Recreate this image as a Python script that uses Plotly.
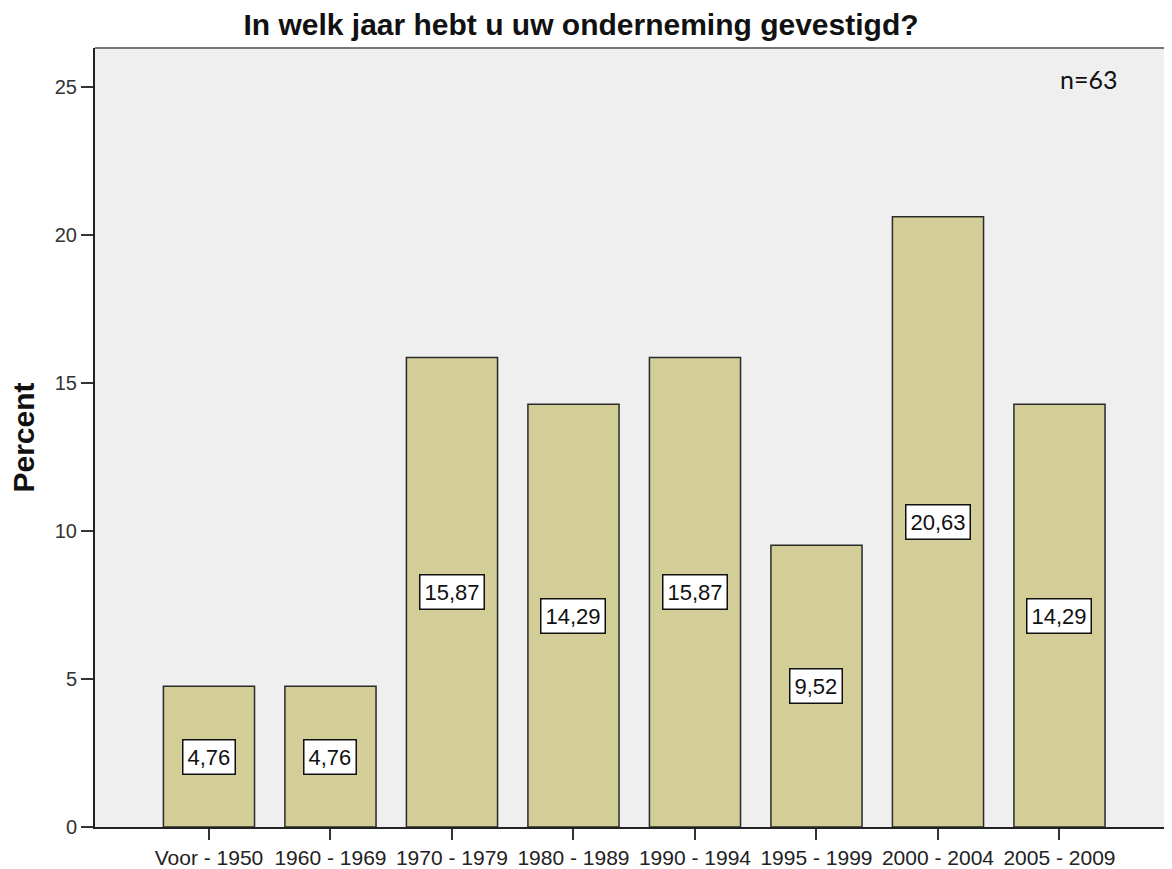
import plotly.graph_objects as go

categories = ["Voor - 1950", "1960 - 1969", "1970 - 1979", "1980 - 1989",
              "1990 - 1994", "1995 - 1999", "2000 - 2004", "2005 - 2009"]
percent = [4.76, 4.76, 15.87, 14.29, 15.87, 9.52, 20.63, 14.29]
y_ticks = [0, 5, 10, 15, 20, 25]
title_text = "In welk jaar hebt u uw onderneming gevestigd?"
n_text = "n=63"

# page body has an 8px margin, so the figure is drawn 8px in from the corner
OFF = 8
W, H = 1172 - OFF, 869 - OFF
ML, MR, MT, MB = 95 - OFF, 0, 48 - OFF, 38

fig = go.Figure()
fig.add_trace(go.Bar(
    x=list(range(len(categories))), y=percent,
    width=0.75,
    marker=dict(color="#D3CE98", line=dict(color="#2a2a2a", width=1.5)),
    hoverinfo="skip",
))

annotations = []
for i, v in enumerate(percent):
    annotations.append(dict(
        x=i, y=v / 2, xref="x", yref="y",
        text=f"{v:.2f}".replace(".", ","),
        showarrow=False,
        font=dict(family="Arial, Liberation Sans", size=22, color="#111111"),
        bgcolor="white", bordercolor="#111111", borderwidth=1.5, borderpad=4,
        xanchor="center", yanchor="middle",
    ))

plot_w = W - ML - MR
plot_h = H - MT - MB
annotations.append(dict(
    x=(23 - 95) / plot_w, y=0.5, xref="paper", yref="paper",
    text="<b>Percent</b>", textangle=-90, showarrow=False,
    font=dict(family="Arial, Liberation Sans", size=30, color="#111111"),
    xanchor="center", yanchor="middle",
))
annotations.append(dict(
    x=(1058 - 95) / plot_w, y=(869 - MB - 79) / plot_h, xref="paper", yref="paper",
    text=n_text, showarrow=False,
    font=dict(family="Lato, Open Sans", size=25, color="#111111"),
    xanchor="left", yanchor="middle",
))

fig.update_layout(
    width=W, height=H,
    margin=dict(l=ML, r=MR, t=MT, b=MB),
    paper_bgcolor="white", plot_bgcolor="#EFEFEF",
    showlegend=False,
    title=dict(text="<b>" + title_text + "</b>", x=(581 - OFF) / W, xref="container",
               xanchor="center", y=1 - (24 - OFF) / H, yref="container", yanchor="middle",
               font=dict(family="Arial, Liberation Sans", size=30, color="#111111")),
    annotations=annotations,
    xaxis=dict(
        range=[-0.938, 7.926], tickmode="array",
        tickvals=list(range(len(categories))), ticktext=categories,
        showgrid=False, zeroline=False, showline=True, linecolor="#222222", linewidth=2,
        ticks="outside", ticklen=11, tickwidth=2, tickcolor="#333333",
        tickfont=dict(family="Arial, Liberation Sans", size=21, color="#222222"),
        fixedrange=True,
    ),
    yaxis=dict(
        range=[0, 26.33], tickmode="array", tickvals=y_ticks,
        ticktext=[str(t) for t in y_ticks],
        showgrid=False, zeroline=False, showline=True, linecolor="#222222", linewidth=2,
        ticks="outside", ticklen=12, tickwidth=2, tickcolor="#333333",
        tickfont=dict(family="Arial, Liberation Sans", size=20, color="#333333"),
        fixedrange=True,
    ),
    shapes=[dict(type="line", xref="paper", yref="paper", x0=0, x1=1, y0=1, y1=1,
                 line=dict(color="#777777", width=2))],
)

fig.write_html("out.html")
